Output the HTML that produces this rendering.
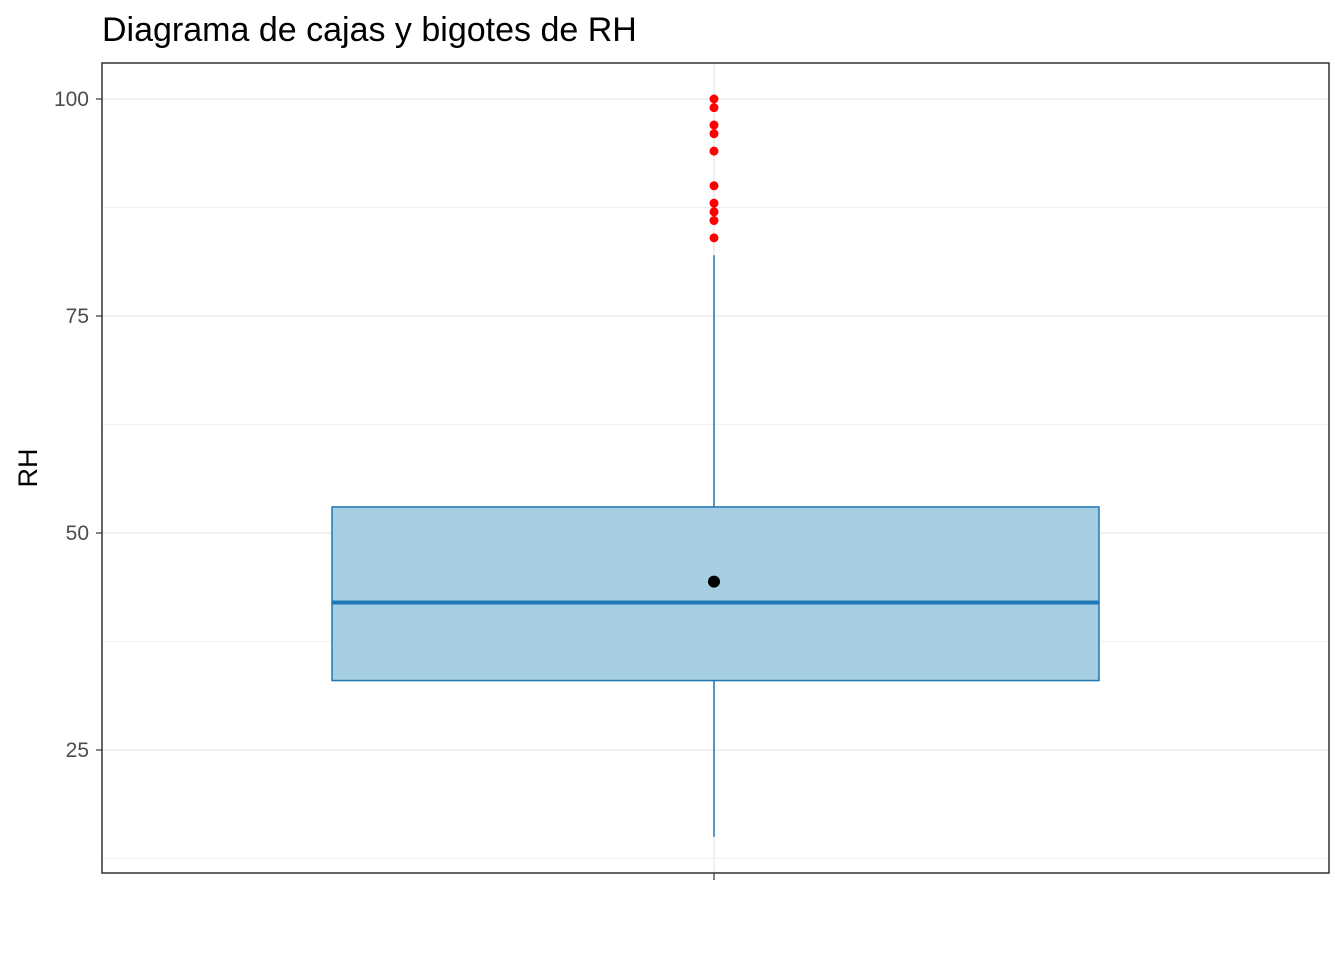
<!DOCTYPE html>
<html><head><meta charset="utf-8"><style>
body{margin:0;background:#fff;font-family:"Liberation Sans",Arial,sans-serif;}
</style></head><body>
<svg id="chart" width="1344" height="960" xmlns="http://www.w3.org/2000/svg">
<text x="102" y="41" font-size="34" fill="#000">Diagrama de cajas y bigotes de RH</text>
<text transform="translate(37,468) rotate(-90)" text-anchor="middle" font-size="27" fill="#000">RH</text>
<g id="grid"></g><g id="marks"></g><g id="axes"></g>
</svg>
<script>
const yTicks=[25,50,75,100];
const yMinor=[12.5,37.5,62.5,87.5];
const stats=[15,33,42,53,82];
const meanVal=[44.4];
const outliers=[100,99,97,96,94,90,88,87,86,84];
const L=102,R=1329,T=63,B=873,cx=714;
const y=v=>99+(100-v)*8.68;
const ns="http://www.w3.org/2000/svg";
function mk(p,t,a){const e=document.createElementNS(ns,t);for(const k in a)e.setAttribute(k,a[k]);document.getElementById(p).appendChild(e);return e;}
yMinor.forEach(v=>{const e=mk('grid','line',{x1:L,x2:R,y1:y(v),y2:y(v),stroke:'#f0f0f0','stroke-width':1});

});
yTicks.forEach(v=>{const e=mk('grid','line',{x1:L,x2:R,y1:y(v),y2:y(v),stroke:'#ebebeb','stroke-width':1.5});


const t=mk('axes','line',{x1:L-6,x2:L,y1:y(v),y2:y(v),stroke:'#333','stroke-width':1.2});


const l=mk('axes','text',{x:L-13,y:y(v)+7,'text-anchor':'end','font-size':21,fill:'#4d4d4d'});l.textContent=v;

});
const vg=mk('grid','line',{x1:cx,x2:cx,y1:T,y2:B,stroke:'#ebebeb','stroke-width':1.5});


const w1=mk('marks','line',{x1:cx,x2:cx,y1:y(stats[3]),y2:y(stats[4]),stroke:'#1f78b4','stroke-width':1.5});


const w2=mk('marks','line',{x1:cx,x2:cx,y1:y(stats[1]),y2:y(stats[0]),stroke:'#1f78b4','stroke-width':1.5});


const bx=mk('marks','rect',{x:332,y:y(stats[3]),width:767,height:y(stats[1])-y(stats[3]),fill:'#a6cee3',stroke:'#1f78b4','stroke-width':1.5});


const md=mk('marks','line',{x1:332,x2:1099,y1:y(stats[2]),y2:y(stats[2]),stroke:'#1f78b4','stroke-width':4});


outliers.forEach(v=>{const c=mk('marks','circle',{cx:cx,cy:y(v),r:4.5,fill:'#ff0000'});

});
const mn=mk('marks','circle',{cx:cx,cy:y(meanVal[0]),r:6,fill:'#000'});


const fr=mk('axes','rect',{x:L,y:T,width:R-L,height:B-T,fill:'none',stroke:'#333','stroke-width':1.5});


const xt=mk('axes','line',{x1:cx,x2:cx,y1:B,y2:B+7,stroke:'#333','stroke-width':1.2});


</script>
</body></html>
